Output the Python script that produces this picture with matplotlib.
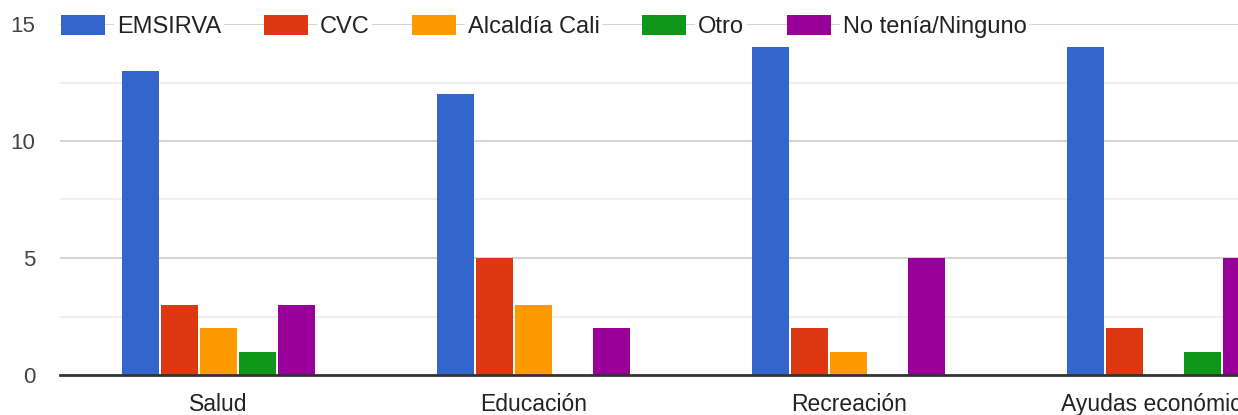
import numpy as np
import matplotlib.pyplot as plt
from matplotlib.ticker import MultipleLocator

plt.rcParams['font.family'] = ['Liberation Sans', 'DejaVu Sans']

# -------------------------------------------------
# data
# -------------------------------------------------
categories = ["Salud", "Educación", "Recreación", "Ayudas económicas"]
series_names = ["EMSIRVA", "CVC", "Alcaldía Cali", "Otro", "No tenía/Ninguno"]
emsirva = [13, 12, 14, 14]
cvc = [3, 5, 2, 2]
alcaldia = [2, 3, 1, 0]
otro = [1, 0, 0, 1]
ninguno = [3, 2, 5, 5]
colors = ["#3366cc", "#dc3912", "#ff9900", "#109618", "#990099"]

values = [emsirva, cvc, alcaldia, otro, ninguno]

# -------------------------------------------------
# figure
# -------------------------------------------------
fig = plt.figure(figsize=(12.38, 4.15), dpi=100)
ax = fig.add_axes([60 / 1238, 40 / 415, 1178 / 1238, 351 / 415])

x = np.arange(len(categories))
slot = 0.124
bar_w = 0.117
for i, (name, vals, c) in enumerate(zip(series_names, values, colors)):
    offs = (i - 2) * slot
    ax.bar(x + offs, vals, width=bar_w, color=c, label=name, zorder=3)

ax.set_xlim(-0.503, 3.236)
ax.set_ylim(0, 15)

# gridlines
ax.yaxis.set_major_locator(MultipleLocator(5))
ax.yaxis.set_minor_locator(MultipleLocator(2.5))
ax.grid(axis="y", which="major", color="#cccccc", linewidth=1.2, zorder=0)
ax.grid(axis="y", which="minor", color="#ebebeb", linewidth=1.2, zorder=0)
ax.set_axisbelow(True)

for s in ["top", "right", "left"]:
    ax.spines[s].set_visible(False)
ax.spines["bottom"].set_color("#333333")
ax.spines["bottom"].set_linewidth(2)
ax.spines["bottom"].set_zorder(4)

# last label is cut by the right edge, as in the original screenshot
ax.set_xticks(x)
ax.set_xticklabels(categories)
ax.tick_params(axis="x", length=0, pad=13, labelsize=16.5, labelcolor="#222222")
ax.tick_params(axis="y", which="both", length=0, pad=18, labelsize=16, labelcolor="#444444")
ax.set_yticks([0, 5, 10, 15])
ax.set_yticklabels(["0", "5", "10", "15"])

# legend sitting on the top gridline
leg = ax.legend(loc="center left", bbox_to_anchor=(61 / 1238, 1 - 26.5 / 415),
                bbox_transform=fig.transFigure, ncol=5, frameon=False,
                fontsize=17, handlelength=1.87, handleheight=0.93,
                handletextpad=0.5, columnspacing=1.8, borderaxespad=0,
                borderpad=0)
leg.set_zorder(5)
for t in leg.get_texts():
    t.set_color("#222222")
    t.set_bbox(dict(facecolor="white", edgecolor="none", pad=2))

plt.savefig("out.png", dpi=100)
plt.close()
